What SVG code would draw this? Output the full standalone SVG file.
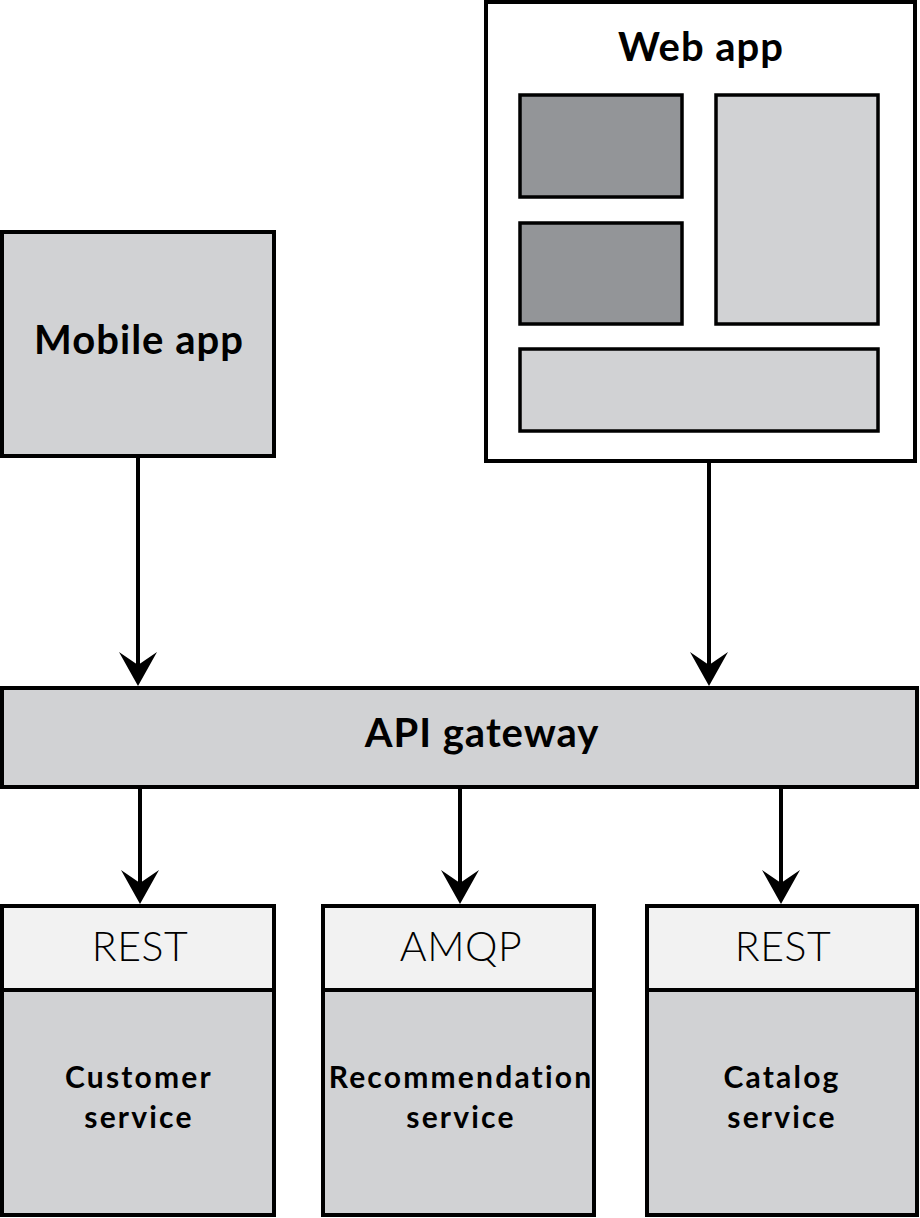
<svg xmlns="http://www.w3.org/2000/svg" width="920" height="1218" viewBox="0 0 920 1218">
<style>
.box{stroke:#000;stroke-width:4}
.inner{stroke:#000;stroke-width:3.5}
.lt{fill:#d1d2d4}
.dk{fill:#939598}
.hd{fill:#f2f2f2}
.wh{fill:#fff}
.conn{stroke:#000;stroke-width:4;fill:none}
.b{font-family:Lato,"Liberation Sans",sans-serif;font-weight:700;fill:#000;text-anchor:middle}
.l{font-family:Lato,"Liberation Sans",sans-serif;font-weight:300;fill:#000;text-anchor:middle;font-size:41px;letter-spacing:0.5px}
.big{font-size:40px;letter-spacing:1px}
.sm{font-size:30px;letter-spacing:2.2px}
</style>
<defs>
<marker id="arr" markerUnits="userSpaceOnUse" viewBox="-40 -25 45 50" refX="-20" refY="0" markerWidth="45" markerHeight="50" orient="auto">
<path d="M0,0 L-34,-19 L-21,0 L-34,19 Z" fill="#000"/>
</marker>
</defs>
<g id="mobile-app">
<rect class="box lt" x="2" y="232" width="272" height="224"/>
<text class="b big" x="139" y="354">Mobile app</text>
</g>
<g id="web-app">
<rect class="box wh" x="486" y="2" width="429" height="459"/>
<text class="b big" x="701" y="61">Web app</text>
<rect class="inner dk" x="520" y="95" width="162" height="102"/>
<rect class="inner dk" x="520" y="223" width="162" height="101"/>
<rect class="inner lt" x="716" y="95" width="162" height="229"/>
<rect class="inner lt" x="520" y="349" width="358" height="82"/>
</g>
<g id="api-gateway">
<rect class="box lt" x="2" y="688" width="915" height="99"/>
<text class="b big" x="482" y="747">API gateway</text>
</g>
<g id="customer-service">
<rect class="box lt" x="2" y="906" width="272" height="309"/>
<rect class="box hd" x="2" y="906" width="272" height="84"/>
<text class="l" x="140" y="961">REST</text>
<text class="b sm" x="139" y="1088">Customer</text>
<text class="b sm" x="139" y="1128">service</text>
</g>
<g id="recommendation-service">
<rect class="box lt" x="323" y="906" width="271" height="309"/>
<rect class="box hd" x="323" y="906" width="271" height="84"/>
<text class="l" x="461" y="961">AMQP</text>
<text class="b sm" x="461" y="1088">Recommendation</text>
<text class="b sm" x="461" y="1128">service</text>
</g>
<g id="catalog-service">
<rect class="box lt" x="647" y="906" width="270" height="309"/>
<rect class="box hd" x="647" y="906" width="270" height="84"/>
<text class="l" x="783" y="961">REST</text>
<text class="b sm" x="782" y="1088">Catalog</text>
<text class="b sm" x="782" y="1128">service</text>
</g>
<g id="connectors">
<line class="conn" x1="138" y1="458" x2="138" y2="666" marker-end="url(#arr)"/>
<line class="conn" x1="709" y1="463" x2="709" y2="666" marker-end="url(#arr)"/>
<line class="conn" x1="140" y1="789" x2="140" y2="884" marker-end="url(#arr)"/>
<line class="conn" x1="460" y1="789" x2="460" y2="884" marker-end="url(#arr)"/>
<line class="conn" x1="781" y1="789" x2="781" y2="884" marker-end="url(#arr)"/>
</g>
</svg>
